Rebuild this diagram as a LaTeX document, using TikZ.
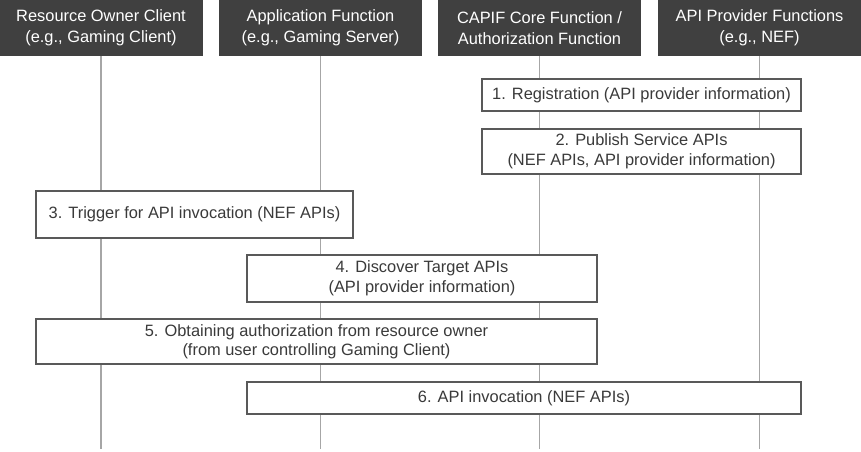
\documentclass[tikz,border=0pt]{standalone}
\usepackage{fontspec}
\setmainfont{Liberation Sans}
\usetikzlibrary{positioning}
\definecolor{headgray}{HTML}{404040}
\definecolor{boxgray}{HTML}{595959}
\definecolor{linegray}{HTML}{A6A6A6}
\definecolor{textgray}{HTML}{3A3A3A}
\begin{document}
\begin{tikzpicture}[x=1pt, y=-1pt,
  head/.style={fill=headgray, text=white, minimum width=203pt, minimum height=56pt,
    inner sep=0pt, align=center, font=\fontsize{16.4}{20.5}\selectfont},
  stepbox/.style={draw=boxgray, line width=1.2pt, fill=white, text=textgray,
    inner sep=0pt, align=center, font=\fontsize{16.4}{19.5}\selectfont},
  life/.style={draw=linegray, line width=1.3pt}]

\useasboundingbox (0,0) rectangle (861,451);

\node[head] (roc) at (101,28) {Resource Owner Client\\(e.g., Gaming Client)};
\node[head] (af) at (320.5,28) {Application Function\\(e.g., Gaming Server)};
\node[head] (ccf) at (539.5,28) {CAPIF Core Function /\\Authorization Function};
\node[head] (apf) at (759.5,28) {API Provider Functions\\(e.g., NEF)};

\coordinate (bottom) at (0,449);
\foreach \n in {roc, af, ccf, apf}
  \draw[life] (\n.south) -- (\n |- bottom);

\node[stepbox, minimum width=319pt, minimum height=32pt] (reg) at (641.5,95)
  {1. Registration (API provider information)};
\node[stepbox, minimum width=319pt, minimum height=45pt] (pub) at (641.5,151.5)
  {2. Publish Service APIs\\(NEF APIs, API provider information)};
\node[stepbox, minimum width=317pt, minimum height=47pt] (trig) at (194.5,214.5)
  {3. Trigger for API invocation (NEF APIs)};
\node[stepbox, minimum width=350pt, minimum height=47pt] (disc) at (422,278.5)
  {4. Discover Target APIs\\(API provider information)};
\node[stepbox, minimum width=561pt, minimum height=45pt] (auth) at (316.5,341.5)
  {5. Obtaining authorization from resource owner\\(from user controlling Gaming Client)};
\node[stepbox, minimum width=554pt, minimum height=32pt] (inv) at (524,398)
  {6. API invocation (NEF APIs)};

\end{tikzpicture}
\end{document}
